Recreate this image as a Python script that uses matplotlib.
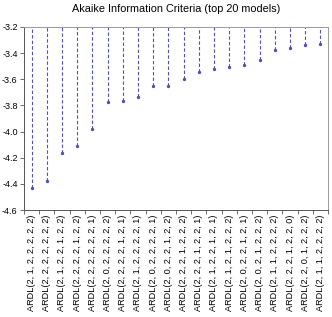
import matplotlib.pyplot as plt
import numpy as np

models = [
    'ARDL(2, 1, 2, 2, 2, 2, 2)', 'ARDL(2, 2, 2, 2, 2, 2, 2)',
    'ARDL(2, 1, 2, 2, 1, 2, 2)', 'ARDL(2, 2, 2, 2, 1, 2, 2)',
    'ARDL(2, 2, 2, 2, 2, 2, 1)', 'ARDL(2, 0, 2, 2, 2, 2, 2)',
    'ARDL(2, 2, 2, 2, 1, 2, 1)', 'ARDL(2, 1, 2, 2, 2, 2, 1)',
    'ARDL(2, 0, 2, 2, 2, 2, 1)', 'ARDL(2, 0, 2, 2, 1, 2, 2)',
    'ARDL(2, 2, 2, 1, 2, 2, 2)', 'ARDL(2, 2, 2, 1, 2, 2, 1)',
    'ARDL(2, 1, 2, 2, 1, 2, 1)', 'ARDL(2, 1, 2, 1, 2, 2, 2)',
    'ARDL(2, 0, 2, 2, 1, 2, 1)', 'ARDL(2, 0, 2, 1, 2, 2, 2)',
    'ARDL(2, 1, 1, 2, 2, 2, 2)', 'ARDL(2, 2, 2, 1, 2, 2, 0)',
    'ARDL(2, 2, 0, 1, 2, 2, 2)', 'ARDL(2, 1, 1, 2, 2, 2, 2)',
]
aic = [-4.434, -4.378, -4.162, -4.110, -3.978, -3.771, -3.766, -3.733,
       -3.651, -3.649, -3.595, -3.547, -3.520, -3.510, -3.493, -3.452,
       -3.374, -3.361, -3.338, -3.328]

top = -3.2
color = '#5050b4'

plt.rcParams['font.family'] = ['Liberation Sans', 'DejaVu Sans']
fig = plt.figure(figsize=(3.32, 3.17), dpi=100)
ax = fig.add_axes([0.072, 0.3375, 0.916, 0.5775])

x = np.arange(len(aic))
ax.vlines(x, aic, top, colors=color, linestyles=(0, (3, 2)), linewidth=0.8)
ax.plot(x, aic, 'o', color=color, markersize=1.4, linestyle='none')

ax.set_xlim(-0.5, len(aic) - 0.5)
ax.set_ylim(-4.6, -3.2)
ax.set_yticks(np.arange(-4.6, -3.19, 0.2))
ax.set_yticklabels(['%.1f' % v for v in np.arange(-4.6, -3.19, 0.2)], fontsize=6.5)

# category labels centred, ticks at the boundaries
ax.set_xticks(np.arange(-0.5, len(aic)), minor=False)
ax.set_xticklabels([])
ax.set_xticks(x, minor=True)
ax.set_xticklabels(models, minor=True, rotation=90, fontsize=6.6)
ax.tick_params(axis='x', which='minor', length=0, pad=3)
ax.tick_params(axis='x', which='major', length=3, width=0.6, color='#555555')
ax.tick_params(axis='y', length=3, width=0.6, color='#555555', pad=1.5)

for s in ax.spines.values():
    s.set_linewidth(0.7)
    s.set_color('#555555')
ax.spines['top'].set_color('#999999')
ax.spines['right'].set_color('#999999')

ax.set_title('Akaike Information Criteria (top 20 models)', fontsize=7.8, pad=11)

plt.savefig('out.png', dpi=100)
